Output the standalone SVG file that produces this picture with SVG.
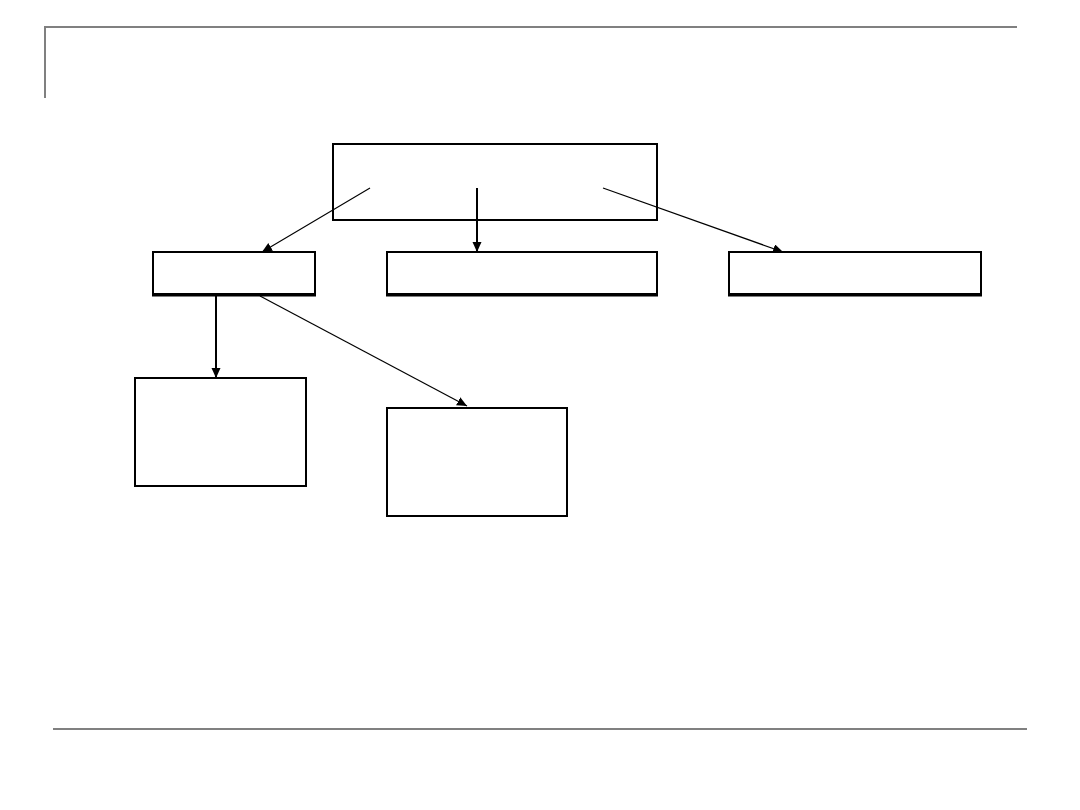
<svg xmlns="http://www.w3.org/2000/svg" width="1080" height="810" viewBox="0 0 1080 810">
<style>
.frame{fill:none;stroke:#808080;stroke-width:2}
.box{fill:#fff;stroke:#000;stroke-width:2}
.base{stroke:#000;stroke-width:3}
.thin{fill:none;stroke:#000;stroke-width:1.2}
.thick{fill:none;stroke:#000;stroke-width:2}
</style>
<defs>
<marker id="ah" markerUnits="userSpaceOnUse" markerWidth="12" markerHeight="10" refX="10" refY="4.5" orient="auto">
<path d="M0,0 L10,4.5 L0,9 Z" fill="#000"/>
</marker>
</defs>
<rect width="1080" height="810" fill="#fff"/>
<g id="frame">
<polyline class="frame" points="45,98 45,27 1017,27"/>
<line class="frame" x1="53" y1="729" x2="1027" y2="729"/>
</g>
<g id="connectors">
<line class="thin" x1="370" y1="188" x2="262" y2="252" marker-end="url(#ah)"/>
<line class="thick" x1="477" y1="188" x2="477" y2="252" marker-end="url(#ah)"/>
<line class="thin" x1="603" y1="188" x2="783" y2="252" marker-end="url(#ah)"/>
<line class="thick" x1="216" y1="296" x2="216" y2="378" marker-end="url(#ah)"/>
<line class="thin" x1="260" y1="296" x2="467" y2="406" marker-end="url(#ah)"/>
</g>
<g id="top"><rect class="box" x="333" y="144" width="324" height="76" style="fill:none"/></g>
<g id="left"><rect class="box" x="153" y="252" width="162" height="42"/><line class="base" x1="152" y1="295" x2="316" y2="295"/></g>
<g id="middle"><rect class="box" x="387" y="252" width="270" height="42"/><line class="base" x1="386" y1="295" x2="658" y2="295"/></g>
<g id="right"><rect class="box" x="729" y="252" width="252" height="42"/><line class="base" x1="728" y1="295" x2="982" y2="295"/></g>
<g id="bottomleft"><rect class="box" x="135" y="378" width="171" height="108"/></g>
<g id="bottommiddle"><rect class="box" x="387" y="408" width="180" height="108"/></g>
</svg>
